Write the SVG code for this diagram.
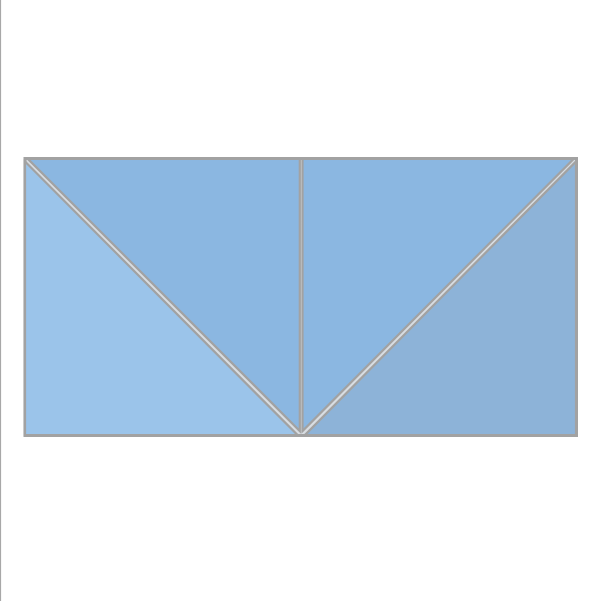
<svg xmlns="http://www.w3.org/2000/svg" width="600" height="601" viewBox="0 0 600 601">
<style>
.t{stroke:#a2a2a2;stroke-width:2.2;stroke-linejoin:miter}
</style>
<rect width="600" height="601" fill="#ffffff"/>
<line x1="0.5" y1="0" x2="0.5" y2="601" stroke="#a8a8a8" stroke-width="1.2"/>
<rect x="25" y="158.5" width="551.5" height="277" fill="#d8dde2" stroke="#a2a2a2" stroke-width="3"/>
<g id="tri-left-bottom"><polygon class="t" fill="#9bc4ea" points="25,161.5 297.5,435 25,435"/></g>
<g id="tri-left-top"><polygon class="t" fill="#8bb7e1" points="28,159 299.8,159 299.8,431"/></g>
<g id="tri-right-top"><polygon class="t" fill="#8bb7e1" points="302.5,159 573.5,159 302.5,431"/></g>
<g id="tri-right-bottom"><polygon class="t" fill="#8db3d8" points="576,161.5 576,435 305,435"/></g>
</svg>
